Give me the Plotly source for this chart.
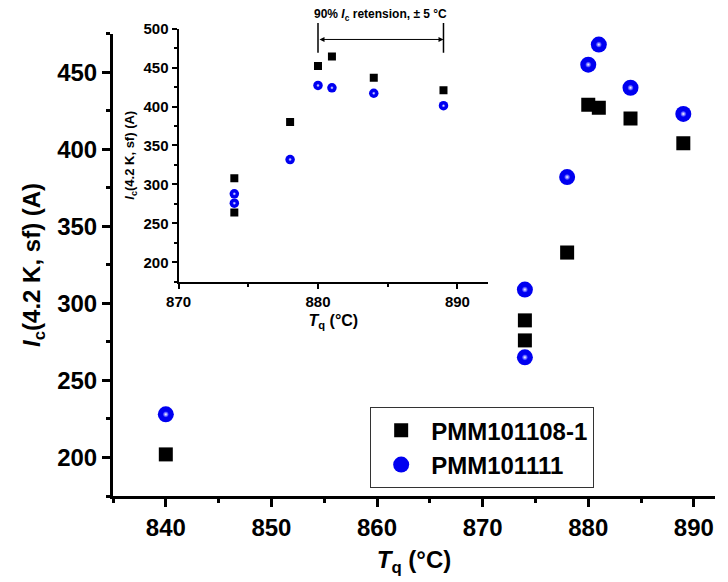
import plotly.graph_objects as go

# ---------------- data ----------------
tq_main_black = [840, 874, 874, 878, 880, 881, 884, 889]
ic_main_black = [202, 289, 276, 333, 429, 427, 420, 404]
tq_main_blue = [840, 874, 874, 878, 880, 881, 884, 889]
ic_main_blue = [228, 309, 265, 382, 455, 468, 440, 423]

tq_inset_black = [874, 874, 878, 880, 881, 884, 889]
ic_inset_black = [308, 264, 380, 452, 464, 437, 421]
tq_inset_blue = [874, 874, 878, 880, 881, 884, 889]
ic_inset_blue = [288, 276, 332, 427, 424, 417, 401]

series_names = ["PMM101108-1", "PMM101111"]
retention_span = [880, 889]          # Tq window marked in inset
retention_level = 486                # arrow level (A) in inset
retention_bar = [469, 507]           # extent of the window bars (A)
retention_text = "90% <i>I</i><sub>c</sub> retension, ± 5 °C"

FONT = "Liberation Sans, Arial, sans-serif"

Y2_RANGE = [175, 500]
Y2_DOMAIN = [0.4507, 0.9841]


def y2_to_paper(v):
    return Y2_DOMAIN[0] + (v - Y2_RANGE[0]) / (Y2_RANGE[1] - Y2_RANGE[0]) * (Y2_DOMAIN[1] - Y2_DOMAIN[0])


fig = go.Figure()

hl = dict(symbol="circle", color="#1010ff",
          gradient=dict(type="radial", color="#ffffff"), line=dict(width=0))

fig.add_trace(go.Scatter(x=tq_main_black, y=ic_main_black, mode="markers",
                         name=series_names[0],
                         marker=dict(symbol="square", size=14, color="black", line=dict(width=0)),
                         xaxis="x", yaxis="y"))
fig.add_trace(go.Scatter(x=tq_main_blue, y=ic_main_blue, mode="markers",
                         name=series_names[1],
                         marker=dict(symbol="circle", size=16, color="#0000f0", line=dict(width=0)),
                         xaxis="x", yaxis="y"))
fig.add_trace(go.Scatter(x=tq_main_blue, y=ic_main_blue, mode="markers",
                         showlegend=False, hoverinfo="skip",
                         marker=dict(size=6, **hl),
                         xaxis="x", yaxis="y"))
fig.add_trace(go.Scatter(x=tq_inset_black, y=ic_inset_black, mode="markers",
                         showlegend=False,
                         marker=dict(symbol="square", size=8, color="black", line=dict(width=0)),
                         xaxis="x2", yaxis="y2"))
fig.add_trace(go.Scatter(x=tq_inset_blue, y=ic_inset_blue, mode="markers",
                         showlegend=False,
                         marker=dict(symbol="circle", size=9.5, color="#0000f0", line=dict(width=0)),
                         xaxis="x2", yaxis="y2"))
fig.add_trace(go.Scatter(x=tq_inset_blue, y=ic_inset_blue, mode="markers",
                         showlegend=False, hoverinfo="skip",
                         marker=dict(size=3.5, **hl),
                         xaxis="x2", yaxis="y2"))

main_axis = dict(showline=True, linewidth=3, linecolor="black", mirror=False,
                 ticks="outside", ticklen=8, tickwidth=3, tickcolor="black",
                 showgrid=False, zeroline=False,
                 tickfont=dict(family=FONT, size=24, color="black", weight="bold"))
inset_axis = dict(showline=True, linewidth=2, linecolor="black", mirror=False,
                  ticks="outside", ticklen=5, tickwidth=2, tickcolor="black",
                  showgrid=False, zeroline=False,
                  tickfont=dict(family=FONT, size=15, color="black", weight="bold"))

fig.update_layout(
    width=728, height=582,
    margin=dict(l=113, r=13, t=20, b=79),
    paper_bgcolor="white", plot_bgcolor="white",
    font=dict(family=FONT, color="black"),
    xaxis=dict(range=[835, 892], tick0=840, dtick=10,
               minor=dict(ticks="outside", ticklen=4, tickwidth=3, dtick=5, tickcolor="black"),
               title=dict(text="<i>T</i><sub>q</sub> (°C)", standoff=12,
                          font=dict(family=FONT, size=24, weight="bold")),
               **main_axis),
    yaxis=dict(range=[175, 475], domain=[0, 0.973], tick0=200, dtick=50,
               minor=dict(ticks="outside", ticklen=4, tickwidth=3, dtick=25, tickcolor="black"),
               title=dict(text="<i>I</i><sub>c</sub>(4.2 K, sf) (A)", standoff=10,
                          font=dict(family=FONT, size=24, weight="bold")),
               **main_axis),
    xaxis2=dict(domain=[0.1089, 0.6231], anchor="y2", range=[870, 892.2],
                tick0=870, dtick=10,
                minor=dict(ticks="outside", ticklen=3, tickwidth=2, dtick=5, tickcolor="black"),
                title=dict(text="<i>T</i><sub>q</sub> (°C)", standoff=6,
                           font=dict(family=FONT, size=16, weight="bold")),
                **inset_axis),
    yaxis2=dict(domain=Y2_DOMAIN, anchor="x2", range=Y2_RANGE,
                tick0=200, dtick=50,
                minor=dict(ticks="outside", ticklen=3, tickwidth=2, dtick=25, tickcolor="black"),
                title=dict(text="<i>I</i><sub>c</sub>(4.2 K, sf) (A)", standoff=6,
                           font=dict(family=FONT, size=13, weight="bold")),
                **inset_axis),
    legend=dict(x=0.4272, y=0.1868, xanchor="left", yanchor="top",
                bgcolor="white", bordercolor="#333333", borderwidth=1,
                font=dict(family=FONT, size=24, color="black", weight="bold"),
                itemwidth=50, tracegroupgap=0),
)

# retention window markers in inset
for xv in retention_span:
    fig.add_shape(type="line", xref="x2", yref="paper", x0=xv, x1=xv,
                  y0=y2_to_paper(retention_bar[0]), y1=y2_to_paper(retention_bar[1]),
                  line=dict(color="black", width=1.5))
fig.add_annotation(xref="x2", yref="paper", axref="x2", ayref="pixel",
                   x=retention_span[1], y=y2_to_paper(retention_level),
                   ax=retention_span[0], ay=0,
                   text="", showarrow=True, arrowside="end+start",
                   arrowhead=2, arrowsize=1, arrowwidth=1, arrowcolor="black")
fig.add_annotation(xref="x2", yref="paper",
                   x=sum(retention_span) / 2, y=1.0124, yanchor="middle",
                   text=retention_text, showarrow=False,
                   font=dict(family=FONT, size=12, color="black", weight="bold"))

fig.write_html("out.html")
